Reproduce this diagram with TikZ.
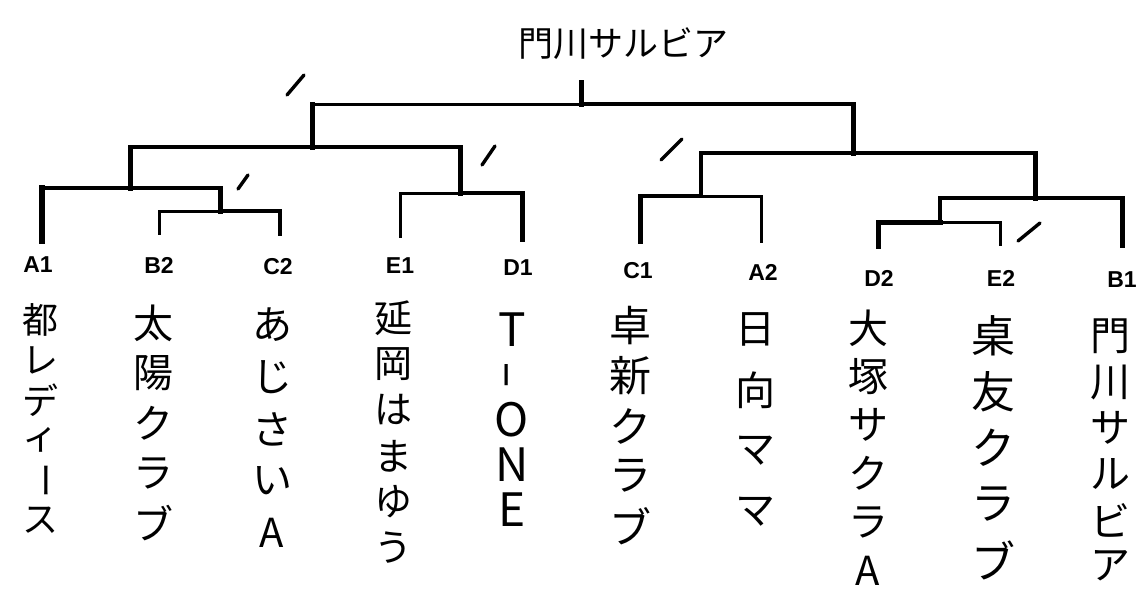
\documentclass[tikz,border=0pt]{standalone}
\usepackage{fontspec}
\newfontfamily\jpfont{Noto Sans CJK JP}
\newfontfamily\labfont{Liberation Sans}
\newcommand\mychoon{\rotatebox[origin=c]{-90}{ー}}
\newcommand\myhyph{\rotatebox[origin=c]{90}{\scalebox{1.8}[1]{-}}}
\begin{document}
\begin{tikzpicture}[x=1pt,y=-1pt,
  br/.style={line width=#1, line cap=rect, draw=black},
  slashmark/.style={line width=3.4pt, line cap=round, draw=black},
  lab/.style={font=\labfont\bfseries\fontsize{23}{23}\selectfont, inner sep=0pt},
  jp/.style={font=\jpfont\fontsize{#1}{#1}\selectfont, inner sep=0pt},
  ttl/.style={font=\jpfont\fontsize{35}{35}\selectfont, inner sep=0pt}]
\useasboundingbox[fill=white] (0,0) rectangle (1141,595);

% ---- title
\node[ttl] (title) at (623,44) {門川サルビア};

% ---- leaf bottoms
\coordinate (lA1) at (42,241);
\coordinate (lB2) at (159,233);
\coordinate (lC2) at (280,234);
\coordinate (lE1) at (400,236);
\coordinate (lD1) at (522,239);
\coordinate (lC1) at (640,241);
\coordinate (lA2) at (761,241);
\coordinate (lD2) at (878,246);
\coordinate (lE2) at (1000,244);
\coordinate (lB1) at (1122,245);

% ---- junctions
\coordinate (m1l) at (159,211); \coordinate (m1r) at (280,211);
\coordinate (m1m) at (220,211); \coordinate (m1t) at (220,188);
\coordinate (m2l) at (42,188);  \coordinate (m2m) at (130,188);
\coordinate (m2t) at (130,147);
\coordinate (m3l) at (400,193); \coordinate (m3r) at (522,193);
\coordinate (m3m) at (460,193); \coordinate (m3t) at (460,147);
\coordinate (m4m) at (312,147); \coordinate (m4t) at (312,104);
\coordinate (m5l) at (640,196); \coordinate (m5r) at (761,196);
\coordinate (m5m) at (701,196); \coordinate (m5t) at (701,153);
\coordinate (m6l) at (878,222); \coordinate (m6r) at (1000,222);
\coordinate (m6m) at (940,222); \coordinate (m6t) at (940,198);
\coordinate (m7r) at (1122,198);
\coordinate (m7m) at (1035,198); \coordinate (m7t) at (1035,153);
\coordinate (m8m) at (853,153); \coordinate (m8t) at (853,104);
\coordinate (fm) at (581,104);
\coordinate (ft) at (581,82);

% ---- leaves
\draw[br=5.5pt] (lA1) -- (m2l);
\draw[br=3pt]   (lB2) -- (m1l);
\draw[br=3.5pt] (lC2) -- (m1r);
\draw[br=3pt]   (lE1) -- (m3l);
\draw[br=5pt]   (lD1) -- (m3r);
\draw[br=5pt]   (lC1) -- (m5l);
\draw[br=3pt]   (lA2) -- (m5r);
\draw[br=5pt]   (lD2) -- (m6l);
\draw[br=3pt]   (lE2) -- (m6r);
\draw[br=5pt]   (lB1) -- (m7r);

% ---- m1
\draw[br=3pt]   (m1l) -- (m1m);
\draw[br=3.5pt] (m1m) -- (m1r);
\draw[br=5pt]   (m1m) -- (m1t);
% ---- m2
\draw[br=4.5pt] (m2l) -- (m2m);
\draw[br=3.5pt] (m2m) -- (m1t);
\draw[br=5pt]   (m2m) -- (m2t);
% ---- m3
\draw[br=3pt]   (m3l) -- (m3m);
\draw[br=4.5pt] (m3m) -- (m3r);
\draw[br=5pt]   (m3m) -- (m3t);
% ---- m4
\draw[br=4.5pt] (m2t) -- (m4m);
\draw[br=3.5pt] (m4m) -- (m3t);
\draw[br=5pt]   (m4m) -- (m4t);
% ---- m5
\draw[br=4.5pt] (m5l) -- (m5m);
\draw[br=3pt]   (m5m) -- (m5r);
\draw[br=4.5pt] (m5m) -- (m5t);
% ---- m6
\draw[br=5pt]   (m6l) -- (m6m);
\draw[br=3pt]   (m6m) -- (m6r);
\draw[br=4pt]   (m6m) -- (m6t);
% ---- m7
\draw[br=3.5pt] (m6t) -- (m7m);
\draw[br=4.5pt] (m7m) -- (m7r);
\draw[br=5pt]   (m7m) -- (m7t);
% ---- m8
\draw[br=3.5pt] (m5t) -- (m8m);
\draw[br=4.5pt] (m8m) -- (m7t);
\draw[br=5pt]   (m8m) -- (m8t);
% ---- final
\draw[br=3pt]   (m4t) -- (fm);
\draw[br=4pt]   (fm) -- (m8t);
\draw[br=5pt]   (fm) -- (ft);

% ---- slash marks
\coordinate (s1a) at (287,95);  \coordinate (s1b) at (304,75);
\coordinate (s2a) at (238,189); \coordinate (s2b) at (248,175);
\coordinate (s3a) at (482,165); \coordinate (s3b) at (495,146);
\coordinate (s4a) at (661,160); \coordinate (s4b) at (682,139);
\coordinate (s5a) at (1018,241); \coordinate (s5b) at (1040,223);
\draw[slashmark] (s1a) -- (s1b);
\draw[slashmark] (s2a) -- (s2b);
\draw[slashmark] (s3a) -- (s3b);
\draw[slashmark] (s4a) -- (s4b);
\draw[slashmark] (s5a) -- (s5b);

% ---- labels
\node[lab] (A1) at (38,265)   {A1};
\node[lab] (B2) at (159,265)  {B2};
\node[lab] (C2) at (278,267)  {C2};
\node[lab] (E1) at (400,266)  {E1};
\node[lab] (D1) at (518,268)  {D1};
\node[lab] (C1) at (638,271)  {C1};
\node[lab] (A2) at (763,272)  {A2};
\node[lab] (D2) at (879,278)  {D2};
\node[lab] (E2) at (1001,278) {E2};
\node[lab] (B1) at (1122,280) {B1};

% ---- team names (vertical)
\foreach \c [count=\i] in {都,レ,デ,ィ,\mychoon,ス}
  \node[jp=36] (tA1-\i) at (40,{320+40*(\i-1)}) {\c};
\foreach \c [count=\i] in {太,陽,ク,ラ,ブ}
  \node[jp=40] (tB2-\i) at (153,{323+50*(\i-1)}) {\c};
\foreach \c [count=\i] in {あ,じ,さ,い,A}
  \node[jp=40] (tC2-\i) at (272,{325+52*(\i-1)}) {\c};
\foreach \c [count=\i] in {延,岡,は,ま,ゆ,う}
  \node[jp=38] (tE1-\i) at (393,{318+46*(\i-1)}) {\c};
\foreach \c [count=\i] in {T,\myhyph,O,N,E}
  \node[jp=46] (tD1-\i) at (512,{330+45*(\i-1)}) {\c};
\foreach \c [count=\i] in {卓,新,ク,ラ,ブ}
  \node[jp=42] (tC1-\i) at (630,{326+50*(\i-1)}) {\c};
\foreach \c [count=\i] in {日,向,マ,マ}
  \node[jp=40] (tA2-\i) at (755,{329+61*(\i-1)}) {\c};
\foreach \c [count=\i] in {大,塚,サ,ク,ラ,A}
  \node[jp=40] (tD2-\i) at (868,{328+48.5*(\i-1)}) {\c};
\foreach \c [count=\i] in {桌,友,ク,ラ,ブ}
  \node[jp=44] (tE2-\i) at (993,{336+56*(\i-1)}) {\c};
\foreach \c [count=\i] in {門,川,サ,ル,ビ,ア}
  \node[jp=40] (tB1-\i) at (1110,{336+46*(\i-1)}) {\c};
\end{tikzpicture}
\end{document}
